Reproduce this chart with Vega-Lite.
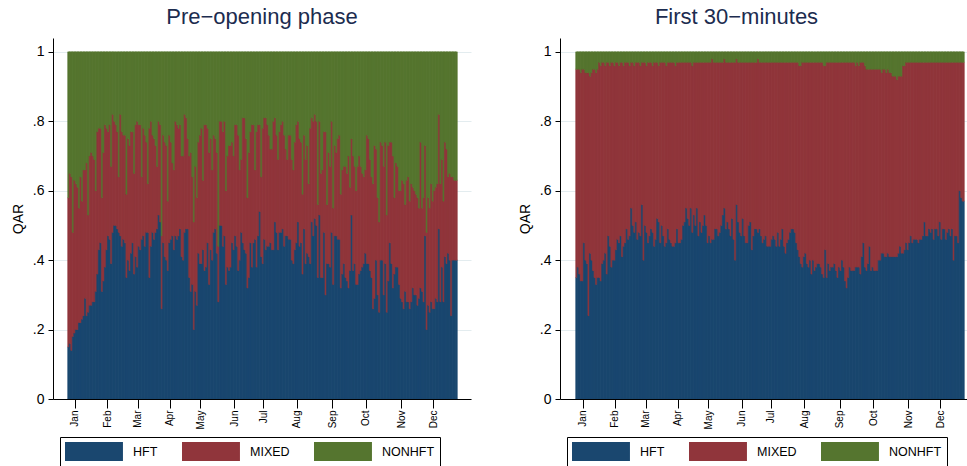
{
"$schema":"https://vega.github.io/schema/vega-lite/v6.json",
"background":"white",
"padding":{"left":11,"top":6,"right":0,"bottom":0},
"config":{"view":{"stroke":null},"font":"Liberation Sans","concat":{"spacing":47},
"axis":{"labelColor":"black","titleColor":"black","domainColor":"black","tickColor":"black","labelFont":"Liberation Sans","titleFont":"Liberation Sans","domainWidth":1,"tickWidth":1},
"title":{"font":"Liberation Sans","fontSize":22,"fontWeight":"normal","color":"#1c2c4f","frame":"group","anchor":"middle","offset":9}},
"datasets":{
"pre":[
{"d":1,"HFT":0.15,"MIXED":0.43,"NONHFT":0.42},{"d":2,"HFT":0.16,"MIXED":0.49,"NONHFT":0.35},{"d":3,"HFT":0.14,"MIXED":0.50,"NONHFT":0.36},{"d":4,"HFT":0.18,"MIXED":0.30,"NONHFT":0.52},{"d":5,"HFT":0.19,"MIXED":0.44,"NONHFT":0.37},{"d":6,"HFT":0.20,"MIXED":0.42,"NONHFT":0.38},{"d":7,"HFT":0.20,"MIXED":0.41,"NONHFT":0.39},{"d":8,"HFT":0.22,"MIXED":0.33,"NONHFT":0.45},{"d":9,"HFT":0.22,"MIXED":0.42,"NONHFT":0.36},{"d":10,"HFT":0.23,"MIXED":0.34,"NONHFT":0.43},
{"d":11,"HFT":0.24,"MIXED":0.42,"NONHFT":0.34},{"d":12,"HFT":0.29,"MIXED":0.37,"NONHFT":0.34},{"d":13,"HFT":0.24,"MIXED":0.44,"NONHFT":0.32},{"d":14,"HFT":0.25,"MIXED":0.28,"NONHFT":0.47},{"d":15,"HFT":0.27,"MIXED":0.43,"NONHFT":0.30},{"d":16,"HFT":0.27,"MIXED":0.44,"NONHFT":0.29},{"d":17,"HFT":0.28,"MIXED":0.42,"NONHFT":0.30},{"d":18,"HFT":0.28,"MIXED":0.41,"NONHFT":0.31},{"d":19,"HFT":0.31,"MIXED":0.29,"NONHFT":0.40},{"d":20,"HFT":0.36,"MIXED":0.41,"NONHFT":0.23},
{"d":21,"HFT":0.43,"MIXED":0.35,"NONHFT":0.22},{"d":22,"HFT":0.45,"MIXED":0.33,"NONHFT":0.22},{"d":23,"HFT":0.31,"MIXED":0.27,"NONHFT":0.42},{"d":24,"HFT":0.34,"MIXED":0.37,"NONHFT":0.29},{"d":25,"HFT":0.38,"MIXED":0.41,"NONHFT":0.21},{"d":26,"HFT":0.43,"MIXED":0.35,"NONHFT":0.22},{"d":27,"HFT":0.47,"MIXED":0.30,"NONHFT":0.23},{"d":28,"HFT":0.46,"MIXED":0.33,"NONHFT":0.21},{"d":29,"HFT":0.39,"MIXED":0.28,"NONHFT":0.33},{"d":30,"HFT":0.48,"MIXED":0.34,"NONHFT":0.18},
{"d":31,"HFT":0.50,"MIXED":0.30,"NONHFT":0.20},{"d":32,"HFT":0.50,"MIXED":0.29,"NONHFT":0.21},{"d":33,"HFT":0.49,"MIXED":0.28,"NONHFT":0.23},{"d":34,"HFT":0.48,"MIXED":0.16,"NONHFT":0.36},{"d":35,"HFT":0.47,"MIXED":0.35,"NONHFT":0.18},{"d":36,"HFT":0.44,"MIXED":0.33,"NONHFT":0.23},{"d":37,"HFT":0.46,"MIXED":0.30,"NONHFT":0.24},{"d":38,"HFT":0.45,"MIXED":0.31,"NONHFT":0.24},{"d":39,"HFT":0.35,"MIXED":0.24,"NONHFT":0.41},{"d":40,"HFT":0.40,"MIXED":0.35,"NONHFT":0.25},
{"d":41,"HFT":0.37,"MIXED":0.36,"NONHFT":0.27},{"d":42,"HFT":0.42,"MIXED":0.35,"NONHFT":0.23},{"d":43,"HFT":0.45,"MIXED":0.32,"NONHFT":0.23},{"d":44,"HFT":0.36,"MIXED":0.29,"NONHFT":0.35},{"d":45,"HFT":0.41,"MIXED":0.38,"NONHFT":0.21},{"d":46,"HFT":0.38,"MIXED":0.42,"NONHFT":0.20},{"d":47,"HFT":0.44,"MIXED":0.35,"NONHFT":0.21},{"d":48,"HFT":0.43,"MIXED":0.36,"NONHFT":0.21},{"d":49,"HFT":0.46,"MIXED":0.18,"NONHFT":0.36},{"d":50,"HFT":0.47,"MIXED":0.31,"NONHFT":0.22},
{"d":51,"HFT":0.44,"MIXED":0.32,"NONHFT":0.24},{"d":52,"HFT":0.48,"MIXED":0.26,"NONHFT":0.26},{"d":53,"HFT":0.48,"MIXED":0.14,"NONHFT":0.38},{"d":54,"HFT":0.35,"MIXED":0.43,"NONHFT":0.22},{"d":55,"HFT":0.44,"MIXED":0.36,"NONHFT":0.20},{"d":56,"HFT":0.48,"MIXED":0.28,"NONHFT":0.24},{"d":57,"HFT":0.46,"MIXED":0.29,"NONHFT":0.25},{"d":58,"HFT":0.48,"MIXED":0.25,"NONHFT":0.27},{"d":59,"HFT":0.49,"MIXED":0.18,"NONHFT":0.33},{"d":60,"HFT":0.53,"MIXED":0.27,"NONHFT":0.20},
{"d":61,"HFT":0.51,"MIXED":0.28,"NONHFT":0.21},{"d":62,"HFT":0.26,"MIXED":0.21,"NONHFT":0.53},{"d":63,"HFT":0.45,"MIXED":0.31,"NONHFT":0.24},{"d":64,"HFT":0.41,"MIXED":0.33,"NONHFT":0.26},{"d":65,"HFT":0.40,"MIXED":0.33,"NONHFT":0.27},{"d":66,"HFT":0.37,"MIXED":0.20,"NONHFT":0.43},{"d":67,"HFT":0.45,"MIXED":0.31,"NONHFT":0.24},{"d":68,"HFT":0.46,"MIXED":0.28,"NONHFT":0.26},{"d":69,"HFT":0.47,"MIXED":0.21,"NONHFT":0.32},{"d":70,"HFT":0.43,"MIXED":0.23,"NONHFT":0.34},
{"d":71,"HFT":0.47,"MIXED":0.33,"NONHFT":0.20},{"d":72,"HFT":0.46,"MIXED":0.33,"NONHFT":0.21},{"d":73,"HFT":0.47,"MIXED":0.31,"NONHFT":0.22},{"d":74,"HFT":0.49,"MIXED":0.30,"NONHFT":0.21},{"d":75,"HFT":0.41,"MIXED":0.29,"NONHFT":0.30},{"d":76,"HFT":0.40,"MIXED":0.30,"NONHFT":0.30},{"d":77,"HFT":0.48,"MIXED":0.34,"NONHFT":0.18},{"d":78,"HFT":0.49,"MIXED":0.32,"NONHFT":0.19},{"d":79,"HFT":0.49,"MIXED":0.26,"NONHFT":0.25},{"d":80,"HFT":0.35,"MIXED":0.35,"NONHFT":0.30},
{"d":81,"HFT":0.31,"MIXED":0.40,"NONHFT":0.29},{"d":82,"HFT":0.33,"MIXED":0.31,"NONHFT":0.36},{"d":83,"HFT":0.20,"MIXED":0.31,"NONHFT":0.49},{"d":84,"HFT":0.31,"MIXED":0.36,"NONHFT":0.33},{"d":85,"HFT":0.27,"MIXED":0.31,"NONHFT":0.42},{"d":86,"HFT":0.42,"MIXED":0.32,"NONHFT":0.26},{"d":87,"HFT":0.39,"MIXED":0.37,"NONHFT":0.24},{"d":88,"HFT":0.39,"MIXED":0.39,"NONHFT":0.22},{"d":89,"HFT":0.43,"MIXED":0.20,"NONHFT":0.37},{"d":90,"HFT":0.37,"MIXED":0.42,"NONHFT":0.21},
{"d":91,"HFT":0.38,"MIXED":0.41,"NONHFT":0.21},{"d":92,"HFT":0.45,"MIXED":0.33,"NONHFT":0.22},{"d":93,"HFT":0.33,"MIXED":0.38,"NONHFT":0.29},{"d":94,"HFT":0.43,"MIXED":0.32,"NONHFT":0.25},{"d":95,"HFT":0.40,"MIXED":0.26,"NONHFT":0.34},{"d":96,"HFT":0.48,"MIXED":0.28,"NONHFT":0.24},{"d":97,"HFT":0.49,"MIXED":0.26,"NONHFT":0.25},{"d":98,"HFT":0.42,"MIXED":0.29,"NONHFT":0.29},{"d":99,"HFT":0.28,"MIXED":0.16,"NONHFT":0.56},{"d":100,"HFT":0.50,"MIXED":0.30,"NONHFT":0.20},
{"d":101,"HFT":0.50,"MIXED":0.30,"NONHFT":0.20},{"d":102,"HFT":0.44,"MIXED":0.33,"NONHFT":0.23},{"d":103,"HFT":0.47,"MIXED":0.33,"NONHFT":0.20},{"d":104,"HFT":0.33,"MIXED":0.27,"NONHFT":0.40},{"d":105,"HFT":0.38,"MIXED":0.32,"NONHFT":0.30},{"d":106,"HFT":0.37,"MIXED":0.36,"NONHFT":0.27},{"d":107,"HFT":0.38,"MIXED":0.35,"NONHFT":0.27},{"d":108,"HFT":0.45,"MIXED":0.29,"NONHFT":0.26},{"d":109,"HFT":0.43,"MIXED":0.27,"NONHFT":0.30},{"d":110,"HFT":0.47,"MIXED":0.32,"NONHFT":0.21},
{"d":111,"HFT":0.44,"MIXED":0.35,"NONHFT":0.21},{"d":112,"HFT":0.37,"MIXED":0.39,"NONHFT":0.24},{"d":113,"HFT":0.40,"MIXED":0.26,"NONHFT":0.34},{"d":114,"HFT":0.48,"MIXED":0.21,"NONHFT":0.31},{"d":115,"HFT":0.45,"MIXED":0.36,"NONHFT":0.19},{"d":116,"HFT":0.43,"MIXED":0.38,"NONHFT":0.19},{"d":117,"HFT":0.42,"MIXED":0.33,"NONHFT":0.25},{"d":118,"HFT":0.32,"MIXED":0.26,"NONHFT":0.42},{"d":119,"HFT":0.35,"MIXED":0.36,"NONHFT":0.29},{"d":120,"HFT":0.45,"MIXED":0.32,"NONHFT":0.23},
{"d":121,"HFT":0.38,"MIXED":0.41,"NONHFT":0.21},{"d":122,"HFT":0.45,"MIXED":0.34,"NONHFT":0.21},{"d":123,"HFT":0.46,"MIXED":0.20,"NONHFT":0.34},{"d":124,"HFT":0.38,"MIXED":0.39,"NONHFT":0.23},{"d":125,"HFT":0.47,"MIXED":0.32,"NONHFT":0.21},{"d":126,"HFT":0.54,"MIXED":0.25,"NONHFT":0.21},{"d":127,"HFT":0.41,"MIXED":0.23,"NONHFT":0.36},{"d":128,"HFT":0.39,"MIXED":0.39,"NONHFT":0.22},{"d":129,"HFT":0.46,"MIXED":0.35,"NONHFT":0.19},{"d":130,"HFT":0.43,"MIXED":0.38,"NONHFT":0.19},
{"d":131,"HFT":0.44,"MIXED":0.35,"NONHFT":0.21},{"d":132,"HFT":0.44,"MIXED":0.32,"NONHFT":0.24},{"d":133,"HFT":0.45,"MIXED":0.27,"NONHFT":0.28},{"d":134,"HFT":0.43,"MIXED":0.29,"NONHFT":0.28},{"d":135,"HFT":0.43,"MIXED":0.37,"NONHFT":0.20},{"d":136,"HFT":0.51,"MIXED":0.30,"NONHFT":0.19},{"d":137,"HFT":0.48,"MIXED":0.28,"NONHFT":0.24},{"d":138,"HFT":0.43,"MIXED":0.26,"NONHFT":0.31},{"d":139,"HFT":0.48,"MIXED":0.29,"NONHFT":0.23},{"d":140,"HFT":0.48,"MIXED":0.31,"NONHFT":0.21},
{"d":141,"HFT":0.49,"MIXED":0.31,"NONHFT":0.20},{"d":142,"HFT":0.44,"MIXED":0.32,"NONHFT":0.24},{"d":143,"HFT":0.47,"MIXED":0.25,"NONHFT":0.28},{"d":144,"HFT":0.47,"MIXED":0.22,"NONHFT":0.31},{"d":145,"HFT":0.46,"MIXED":0.30,"NONHFT":0.24},{"d":146,"HFT":0.46,"MIXED":0.30,"NONHFT":0.24},{"d":147,"HFT":0.40,"MIXED":0.29,"NONHFT":0.31},{"d":148,"HFT":0.39,"MIXED":0.27,"NONHFT":0.34},{"d":149,"HFT":0.43,"MIXED":0.31,"NONHFT":0.26},{"d":150,"HFT":0.45,"MIXED":0.34,"NONHFT":0.21},
{"d":151,"HFT":0.51,"MIXED":0.29,"NONHFT":0.20},{"d":152,"HFT":0.44,"MIXED":0.31,"NONHFT":0.25},{"d":153,"HFT":0.45,"MIXED":0.29,"NONHFT":0.26},{"d":154,"HFT":0.36,"MIXED":0.23,"NONHFT":0.41},{"d":155,"HFT":0.49,"MIXED":0.27,"NONHFT":0.24},{"d":156,"HFT":0.39,"MIXED":0.30,"NONHFT":0.31},{"d":157,"HFT":0.42,"MIXED":0.31,"NONHFT":0.27},{"d":158,"HFT":0.41,"MIXED":0.21,"NONHFT":0.38},{"d":159,"HFT":0.39,"MIXED":0.39,"NONHFT":0.22},{"d":160,"HFT":0.51,"MIXED":0.30,"NONHFT":0.19},
{"d":161,"HFT":0.47,"MIXED":0.33,"NONHFT":0.20},{"d":162,"HFT":0.52,"MIXED":0.30,"NONHFT":0.18},{"d":163,"HFT":0.50,"MIXED":0.30,"NONHFT":0.20},{"d":164,"HFT":0.35,"MIXED":0.21,"NONHFT":0.44},{"d":165,"HFT":0.53,"MIXED":0.27,"NONHFT":0.20},{"d":166,"HFT":0.35,"MIXED":0.30,"NONHFT":0.35},{"d":167,"HFT":0.35,"MIXED":0.31,"NONHFT":0.34},{"d":168,"HFT":0.48,"MIXED":0.29,"NONHFT":0.23},{"d":169,"HFT":0.30,"MIXED":0.47,"NONHFT":0.23},{"d":170,"HFT":0.39,"MIXED":0.17,"NONHFT":0.44},
{"d":171,"HFT":0.39,"MIXED":0.32,"NONHFT":0.29},{"d":172,"HFT":0.38,"MIXED":0.29,"NONHFT":0.33},{"d":173,"HFT":0.48,"MIXED":0.32,"NONHFT":0.20},{"d":174,"HFT":0.33,"MIXED":0.22,"NONHFT":0.45},{"d":175,"HFT":0.47,"MIXED":0.26,"NONHFT":0.27},{"d":176,"HFT":0.47,"MIXED":0.24,"NONHFT":0.29},{"d":177,"HFT":0.46,"MIXED":0.29,"NONHFT":0.25},{"d":178,"HFT":0.46,"MIXED":0.30,"NONHFT":0.24},{"d":179,"HFT":0.32,"MIXED":0.27,"NONHFT":0.41},{"d":180,"HFT":0.36,"MIXED":0.30,"NONHFT":0.34},
{"d":181,"HFT":0.39,"MIXED":0.28,"NONHFT":0.33},{"d":182,"HFT":0.35,"MIXED":0.32,"NONHFT":0.33},{"d":183,"HFT":0.34,"MIXED":0.31,"NONHFT":0.35},{"d":184,"HFT":0.32,"MIXED":0.38,"NONHFT":0.30},{"d":185,"HFT":0.37,"MIXED":0.24,"NONHFT":0.39},{"d":186,"HFT":0.53,"MIXED":0.22,"NONHFT":0.25},{"d":187,"HFT":0.37,"MIXED":0.33,"NONHFT":0.30},{"d":188,"HFT":0.39,"MIXED":0.28,"NONHFT":0.33},{"d":189,"HFT":0.33,"MIXED":0.27,"NONHFT":0.40},{"d":190,"HFT":0.33,"MIXED":0.34,"NONHFT":0.33},
{"d":191,"HFT":0.36,"MIXED":0.34,"NONHFT":0.30},{"d":192,"HFT":0.37,"MIXED":0.30,"NONHFT":0.33},{"d":193,"HFT":0.38,"MIXED":0.27,"NONHFT":0.35},{"d":194,"HFT":0.39,"MIXED":0.25,"NONHFT":0.36},{"d":195,"HFT":0.42,"MIXED":0.24,"NONHFT":0.34},{"d":196,"HFT":0.39,"MIXED":0.37,"NONHFT":0.24},{"d":197,"HFT":0.39,"MIXED":0.36,"NONHFT":0.25},{"d":198,"HFT":0.37,"MIXED":0.32,"NONHFT":0.31},{"d":199,"HFT":0.35,"MIXED":0.29,"NONHFT":0.36},{"d":200,"HFT":0.26,"MIXED":0.36,"NONHFT":0.38},
{"d":201,"HFT":0.29,"MIXED":0.44,"NONHFT":0.27},{"d":202,"HFT":0.40,"MIXED":0.32,"NONHFT":0.28},{"d":203,"HFT":0.30,"MIXED":0.28,"NONHFT":0.42},{"d":204,"HFT":0.25,"MIXED":0.26,"NONHFT":0.49},{"d":205,"HFT":0.40,"MIXED":0.34,"NONHFT":0.26},{"d":206,"HFT":0.40,"MIXED":0.33,"NONHFT":0.27},{"d":207,"HFT":0.30,"MIXED":0.37,"NONHFT":0.33},{"d":208,"HFT":0.39,"MIXED":0.35,"NONHFT":0.26},{"d":209,"HFT":0.25,"MIXED":0.28,"NONHFT":0.47},{"d":210,"HFT":0.34,"MIXED":0.39,"NONHFT":0.27},
{"d":211,"HFT":0.45,"MIXED":0.29,"NONHFT":0.26},{"d":212,"HFT":0.39,"MIXED":0.35,"NONHFT":0.26},{"d":213,"HFT":0.32,"MIXED":0.38,"NONHFT":0.30},{"d":214,"HFT":0.36,"MIXED":0.22,"NONHFT":0.42},{"d":215,"HFT":0.38,"MIXED":0.30,"NONHFT":0.32},{"d":216,"HFT":0.38,"MIXED":0.29,"NONHFT":0.33},{"d":217,"HFT":0.33,"MIXED":0.27,"NONHFT":0.40},{"d":218,"HFT":0.29,"MIXED":0.31,"NONHFT":0.40},{"d":219,"HFT":0.28,"MIXED":0.35,"NONHFT":0.37},{"d":220,"HFT":0.26,"MIXED":0.36,"NONHFT":0.38},
{"d":221,"HFT":0.31,"MIXED":0.25,"NONHFT":0.44},{"d":222,"HFT":0.28,"MIXED":0.35,"NONHFT":0.37},{"d":223,"HFT":0.28,"MIXED":0.36,"NONHFT":0.36},{"d":224,"HFT":0.26,"MIXED":0.31,"NONHFT":0.43},{"d":225,"HFT":0.28,"MIXED":0.34,"NONHFT":0.38},{"d":226,"HFT":0.32,"MIXED":0.29,"NONHFT":0.39},{"d":227,"HFT":0.30,"MIXED":0.30,"NONHFT":0.40},{"d":228,"HFT":0.30,"MIXED":0.29,"NONHFT":0.41},{"d":229,"HFT":0.27,"MIXED":0.31,"NONHFT":0.42},{"d":230,"HFT":0.29,"MIXED":0.26,"NONHFT":0.45},
{"d":231,"HFT":0.32,"MIXED":0.42,"NONHFT":0.26},{"d":232,"HFT":0.31,"MIXED":0.24,"NONHFT":0.45},{"d":233,"HFT":0.28,"MIXED":0.30,"NONHFT":0.42},{"d":234,"HFT":0.47,"MIXED":0.26,"NONHFT":0.27},{"d":235,"HFT":0.20,"MIXED":0.28,"NONHFT":0.52},{"d":236,"HFT":0.27,"MIXED":0.31,"NONHFT":0.42},{"d":237,"HFT":0.25,"MIXED":0.30,"NONHFT":0.45},{"d":238,"HFT":0.28,"MIXED":0.34,"NONHFT":0.38},{"d":239,"HFT":0.26,"MIXED":0.31,"NONHFT":0.43},{"d":240,"HFT":0.26,"MIXED":0.34,"NONHFT":0.40},
{"d":241,"HFT":0.29,"MIXED":0.32,"NONHFT":0.39},{"d":242,"HFT":0.28,"MIXED":0.34,"NONHFT":0.38},{"d":243,"HFT":0.49,"MIXED":0.33,"NONHFT":0.18},{"d":244,"HFT":0.28,"MIXED":0.34,"NONHFT":0.38},{"d":245,"HFT":0.38,"MIXED":0.31,"NONHFT":0.31},{"d":246,"HFT":0.28,"MIXED":0.29,"NONHFT":0.43},{"d":247,"HFT":0.41,"MIXED":0.33,"NONHFT":0.26},{"d":248,"HFT":0.39,"MIXED":0.33,"NONHFT":0.28},{"d":249,"HFT":0.42,"MIXED":0.22,"NONHFT":0.36},{"d":250,"HFT":0.40,"MIXED":0.25,"NONHFT":0.35},
{"d":251,"HFT":0.24,"MIXED":0.40,"NONHFT":0.36},{"d":252,"HFT":0.40,"MIXED":0.24,"NONHFT":0.36},{"d":253,"HFT":0.40,"MIXED":0.23,"NONHFT":0.37},{"d":254,"HFT":0.40,"MIXED":0.23,"NONHFT":0.37}
],
"first":[
{"d":1,"HFT":0.35,"MIXED":0.60,"NONHFT":0.05},{"d":2,"HFT":0.38,"MIXED":0.57,"NONHFT":0.05},{"d":3,"HFT":0.36,"MIXED":0.59,"NONHFT":0.05},{"d":4,"HFT":0.34,"MIXED":0.60,"NONHFT":0.06},{"d":5,"HFT":0.34,"MIXED":0.61,"NONHFT":0.05},{"d":6,"HFT":0.45,"MIXED":0.50,"NONHFT":0.05},{"d":7,"HFT":0.40,"MIXED":0.54,"NONHFT":0.06},{"d":8,"HFT":0.39,"MIXED":0.55,"NONHFT":0.06},{"d":9,"HFT":0.24,"MIXED":0.70,"NONHFT":0.06},{"d":10,"HFT":0.42,"MIXED":0.51,"NONHFT":0.07},
{"d":11,"HFT":0.40,"MIXED":0.54,"NONHFT":0.06},{"d":12,"HFT":0.37,"MIXED":0.58,"NONHFT":0.05},{"d":13,"HFT":0.35,"MIXED":0.60,"NONHFT":0.05},{"d":14,"HFT":0.33,"MIXED":0.61,"NONHFT":0.06},{"d":15,"HFT":0.35,"MIXED":0.60,"NONHFT":0.05},{"d":16,"HFT":0.35,"MIXED":0.62,"NONHFT":0.03},{"d":17,"HFT":0.34,"MIXED":0.62,"NONHFT":0.04},{"d":18,"HFT":0.39,"MIXED":0.58,"NONHFT":0.03},{"d":19,"HFT":0.40,"MIXED":0.57,"NONHFT":0.03},{"d":20,"HFT":0.42,"MIXED":0.54,"NONHFT":0.04},
{"d":21,"HFT":0.36,"MIXED":0.61,"NONHFT":0.03},{"d":22,"HFT":0.47,"MIXED":0.50,"NONHFT":0.03},{"d":23,"HFT":0.44,"MIXED":0.52,"NONHFT":0.04},{"d":24,"HFT":0.38,"MIXED":0.59,"NONHFT":0.03},{"d":25,"HFT":0.40,"MIXED":0.57,"NONHFT":0.03},{"d":26,"HFT":0.40,"MIXED":0.56,"NONHFT":0.04},{"d":27,"HFT":0.43,"MIXED":0.54,"NONHFT":0.03},{"d":28,"HFT":0.46,"MIXED":0.51,"NONHFT":0.03},{"d":29,"HFT":0.45,"MIXED":0.51,"NONHFT":0.04},{"d":30,"HFT":0.47,"MIXED":0.50,"NONHFT":0.03},
{"d":31,"HFT":0.41,"MIXED":0.56,"NONHFT":0.03},{"d":32,"HFT":0.44,"MIXED":0.52,"NONHFT":0.04},{"d":33,"HFT":0.45,"MIXED":0.52,"NONHFT":0.03},{"d":34,"HFT":0.49,"MIXED":0.48,"NONHFT":0.03},{"d":35,"HFT":0.46,"MIXED":0.51,"NONHFT":0.03},{"d":36,"HFT":0.47,"MIXED":0.49,"NONHFT":0.04},{"d":37,"HFT":0.55,"MIXED":0.42,"NONHFT":0.03},{"d":38,"HFT":0.50,"MIXED":0.47,"NONHFT":0.03},{"d":39,"HFT":0.48,"MIXED":0.48,"NONHFT":0.04},{"d":40,"HFT":0.51,"MIXED":0.46,"NONHFT":0.03},
{"d":41,"HFT":0.46,"MIXED":0.51,"NONHFT":0.03},{"d":42,"HFT":0.48,"MIXED":0.49,"NONHFT":0.03},{"d":43,"HFT":0.47,"MIXED":0.49,"NONHFT":0.04},{"d":44,"HFT":0.56,"MIXED":0.41,"NONHFT":0.03},{"d":45,"HFT":0.40,"MIXED":0.57,"NONHFT":0.03},{"d":46,"HFT":0.50,"MIXED":0.47,"NONHFT":0.03},{"d":47,"HFT":0.48,"MIXED":0.48,"NONHFT":0.04},{"d":48,"HFT":0.45,"MIXED":0.52,"NONHFT":0.03},{"d":49,"HFT":0.47,"MIXED":0.50,"NONHFT":0.03},{"d":50,"HFT":0.49,"MIXED":0.48,"NONHFT":0.03},
{"d":51,"HFT":0.48,"MIXED":0.48,"NONHFT":0.04},{"d":52,"HFT":0.44,"MIXED":0.53,"NONHFT":0.03},{"d":53,"HFT":0.46,"MIXED":0.51,"NONHFT":0.03},{"d":54,"HFT":0.52,"MIXED":0.45,"NONHFT":0.03},{"d":55,"HFT":0.51,"MIXED":0.45,"NONHFT":0.04},{"d":56,"HFT":0.45,"MIXED":0.52,"NONHFT":0.03},{"d":57,"HFT":0.50,"MIXED":0.47,"NONHFT":0.03},{"d":58,"HFT":0.47,"MIXED":0.50,"NONHFT":0.03},{"d":59,"HFT":0.44,"MIXED":0.53,"NONHFT":0.03},{"d":60,"HFT":0.45,"MIXED":0.51,"NONHFT":0.04},
{"d":61,"HFT":0.49,"MIXED":0.48,"NONHFT":0.03},{"d":62,"HFT":0.46,"MIXED":0.51,"NONHFT":0.03},{"d":63,"HFT":0.45,"MIXED":0.52,"NONHFT":0.03},{"d":64,"HFT":0.44,"MIXED":0.53,"NONHFT":0.03},{"d":65,"HFT":0.44,"MIXED":0.53,"NONHFT":0.03},{"d":66,"HFT":0.45,"MIXED":0.51,"NONHFT":0.04},{"d":67,"HFT":0.49,"MIXED":0.48,"NONHFT":0.03},{"d":68,"HFT":0.45,"MIXED":0.52,"NONHFT":0.03},{"d":69,"HFT":0.45,"MIXED":0.52,"NONHFT":0.03},{"d":70,"HFT":0.46,"MIXED":0.51,"NONHFT":0.03},
{"d":71,"HFT":0.50,"MIXED":0.47,"NONHFT":0.03},{"d":72,"HFT":0.51,"MIXED":0.46,"NONHFT":0.03},{"d":73,"HFT":0.55,"MIXED":0.42,"NONHFT":0.03},{"d":74,"HFT":0.52,"MIXED":0.45,"NONHFT":0.03},{"d":75,"HFT":0.50,"MIXED":0.47,"NONHFT":0.03},{"d":76,"HFT":0.55,"MIXED":0.42,"NONHFT":0.03},{"d":77,"HFT":0.48,"MIXED":0.48,"NONHFT":0.04},{"d":78,"HFT":0.53,"MIXED":0.44,"NONHFT":0.03},{"d":79,"HFT":0.50,"MIXED":0.47,"NONHFT":0.03},{"d":80,"HFT":0.55,"MIXED":0.42,"NONHFT":0.03},
{"d":81,"HFT":0.47,"MIXED":0.50,"NONHFT":0.03},{"d":82,"HFT":0.51,"MIXED":0.46,"NONHFT":0.03},{"d":83,"HFT":0.48,"MIXED":0.49,"NONHFT":0.03},{"d":84,"HFT":0.50,"MIXED":0.47,"NONHFT":0.03},{"d":85,"HFT":0.53,"MIXED":0.44,"NONHFT":0.03},{"d":86,"HFT":0.50,"MIXED":0.47,"NONHFT":0.03},{"d":87,"HFT":0.45,"MIXED":0.52,"NONHFT":0.03},{"d":88,"HFT":0.47,"MIXED":0.50,"NONHFT":0.03},{"d":89,"HFT":0.45,"MIXED":0.52,"NONHFT":0.03},{"d":90,"HFT":0.46,"MIXED":0.52,"NONHFT":0.02},
{"d":91,"HFT":0.46,"MIXED":0.51,"NONHFT":0.03},{"d":92,"HFT":0.49,"MIXED":0.48,"NONHFT":0.03},{"d":93,"HFT":0.49,"MIXED":0.48,"NONHFT":0.03},{"d":94,"HFT":0.47,"MIXED":0.50,"NONHFT":0.03},{"d":95,"HFT":0.48,"MIXED":0.49,"NONHFT":0.03},{"d":96,"HFT":0.50,"MIXED":0.47,"NONHFT":0.03},{"d":97,"HFT":0.53,"MIXED":0.44,"NONHFT":0.03},{"d":98,"HFT":0.55,"MIXED":0.43,"NONHFT":0.02},{"d":99,"HFT":0.49,"MIXED":0.48,"NONHFT":0.03},{"d":100,"HFT":0.51,"MIXED":0.46,"NONHFT":0.03},
{"d":101,"HFT":0.49,"MIXED":0.48,"NONHFT":0.03},{"d":102,"HFT":0.47,"MIXED":0.50,"NONHFT":0.03},{"d":103,"HFT":0.52,"MIXED":0.45,"NONHFT":0.03},{"d":104,"HFT":0.46,"MIXED":0.51,"NONHFT":0.03},{"d":105,"HFT":0.40,"MIXED":0.57,"NONHFT":0.03},{"d":106,"HFT":0.56,"MIXED":0.42,"NONHFT":0.02},{"d":107,"HFT":0.51,"MIXED":0.46,"NONHFT":0.03},{"d":108,"HFT":0.48,"MIXED":0.49,"NONHFT":0.03},{"d":109,"HFT":0.47,"MIXED":0.50,"NONHFT":0.03},{"d":110,"HFT":0.52,"MIXED":0.45,"NONHFT":0.03},
{"d":111,"HFT":0.47,"MIXED":0.50,"NONHFT":0.03},{"d":112,"HFT":0.45,"MIXED":0.52,"NONHFT":0.03},{"d":113,"HFT":0.45,"MIXED":0.52,"NONHFT":0.03},{"d":114,"HFT":0.50,"MIXED":0.47,"NONHFT":0.03},{"d":115,"HFT":0.51,"MIXED":0.46,"NONHFT":0.03},{"d":116,"HFT":0.43,"MIXED":0.54,"NONHFT":0.03},{"d":117,"HFT":0.47,"MIXED":0.50,"NONHFT":0.03},{"d":118,"HFT":0.49,"MIXED":0.48,"NONHFT":0.03},{"d":119,"HFT":0.49,"MIXED":0.48,"NONHFT":0.03},{"d":120,"HFT":0.48,"MIXED":0.50,"NONHFT":0.02},
{"d":121,"HFT":0.49,"MIXED":0.48,"NONHFT":0.03},{"d":122,"HFT":0.47,"MIXED":0.50,"NONHFT":0.03},{"d":123,"HFT":0.45,"MIXED":0.52,"NONHFT":0.03},{"d":124,"HFT":0.46,"MIXED":0.51,"NONHFT":0.03},{"d":125,"HFT":0.47,"MIXED":0.50,"NONHFT":0.03},{"d":126,"HFT":0.44,"MIXED":0.53,"NONHFT":0.03},{"d":127,"HFT":0.44,"MIXED":0.53,"NONHFT":0.03},{"d":128,"HFT":0.44,"MIXED":0.53,"NONHFT":0.03},{"d":129,"HFT":0.46,"MIXED":0.51,"NONHFT":0.03},{"d":130,"HFT":0.47,"MIXED":0.50,"NONHFT":0.03},
{"d":131,"HFT":0.46,"MIXED":0.51,"NONHFT":0.03},{"d":132,"HFT":0.44,"MIXED":0.53,"NONHFT":0.03},{"d":133,"HFT":0.48,"MIXED":0.49,"NONHFT":0.03},{"d":134,"HFT":0.44,"MIXED":0.53,"NONHFT":0.03},{"d":135,"HFT":0.46,"MIXED":0.51,"NONHFT":0.03},{"d":136,"HFT":0.49,"MIXED":0.48,"NONHFT":0.03},{"d":137,"HFT":0.44,"MIXED":0.53,"NONHFT":0.03},{"d":138,"HFT":0.42,"MIXED":0.55,"NONHFT":0.03},{"d":139,"HFT":0.45,"MIXED":0.52,"NONHFT":0.03},{"d":140,"HFT":0.46,"MIXED":0.51,"NONHFT":0.03},
{"d":141,"HFT":0.48,"MIXED":0.49,"NONHFT":0.03},{"d":142,"HFT":0.49,"MIXED":0.48,"NONHFT":0.03},{"d":143,"HFT":0.49,"MIXED":0.48,"NONHFT":0.03},{"d":144,"HFT":0.48,"MIXED":0.49,"NONHFT":0.03},{"d":145,"HFT":0.45,"MIXED":0.52,"NONHFT":0.03},{"d":146,"HFT":0.43,"MIXED":0.54,"NONHFT":0.03},{"d":147,"HFT":0.41,"MIXED":0.55,"NONHFT":0.04},{"d":148,"HFT":0.39,"MIXED":0.57,"NONHFT":0.04},{"d":149,"HFT":0.38,"MIXED":0.59,"NONHFT":0.03},{"d":150,"HFT":0.41,"MIXED":0.56,"NONHFT":0.03},
{"d":151,"HFT":0.42,"MIXED":0.55,"NONHFT":0.03},{"d":152,"HFT":0.39,"MIXED":0.58,"NONHFT":0.03},{"d":153,"HFT":0.38,"MIXED":0.59,"NONHFT":0.03},{"d":154,"HFT":0.40,"MIXED":0.57,"NONHFT":0.03},{"d":155,"HFT":0.36,"MIXED":0.61,"NONHFT":0.03},{"d":156,"HFT":0.40,"MIXED":0.57,"NONHFT":0.03},{"d":157,"HFT":0.37,"MIXED":0.60,"NONHFT":0.03},{"d":158,"HFT":0.38,"MIXED":0.59,"NONHFT":0.03},{"d":159,"HFT":0.39,"MIXED":0.58,"NONHFT":0.03},{"d":160,"HFT":0.39,"MIXED":0.58,"NONHFT":0.03},
{"d":161,"HFT":0.38,"MIXED":0.59,"NONHFT":0.03},{"d":162,"HFT":0.36,"MIXED":0.61,"NONHFT":0.03},{"d":163,"HFT":0.35,"MIXED":0.61,"NONHFT":0.04},{"d":164,"HFT":0.43,"MIXED":0.53,"NONHFT":0.04},{"d":165,"HFT":0.35,"MIXED":0.62,"NONHFT":0.03},{"d":166,"HFT":0.39,"MIXED":0.58,"NONHFT":0.03},{"d":167,"HFT":0.37,"MIXED":0.60,"NONHFT":0.03},{"d":168,"HFT":0.38,"MIXED":0.59,"NONHFT":0.03},{"d":169,"HFT":0.38,"MIXED":0.59,"NONHFT":0.03},{"d":170,"HFT":0.39,"MIXED":0.58,"NONHFT":0.03},
{"d":171,"HFT":0.37,"MIXED":0.60,"NONHFT":0.03},{"d":172,"HFT":0.35,"MIXED":0.62,"NONHFT":0.03},{"d":173,"HFT":0.38,"MIXED":0.59,"NONHFT":0.03},{"d":174,"HFT":0.37,"MIXED":0.60,"NONHFT":0.03},{"d":175,"HFT":0.40,"MIXED":0.57,"NONHFT":0.03},{"d":176,"HFT":0.38,"MIXED":0.59,"NONHFT":0.03},{"d":177,"HFT":0.34,"MIXED":0.63,"NONHFT":0.03},{"d":178,"HFT":0.32,"MIXED":0.65,"NONHFT":0.03},{"d":179,"HFT":0.35,"MIXED":0.62,"NONHFT":0.03},{"d":180,"HFT":0.38,"MIXED":0.59,"NONHFT":0.03},
{"d":181,"HFT":0.37,"MIXED":0.60,"NONHFT":0.03},{"d":182,"HFT":0.37,"MIXED":0.60,"NONHFT":0.03},{"d":183,"HFT":0.37,"MIXED":0.60,"NONHFT":0.03},{"d":184,"HFT":0.38,"MIXED":0.58,"NONHFT":0.04},{"d":185,"HFT":0.38,"MIXED":0.59,"NONHFT":0.03},{"d":186,"HFT":0.38,"MIXED":0.58,"NONHFT":0.04},{"d":187,"HFT":0.36,"MIXED":0.61,"NONHFT":0.03},{"d":188,"HFT":0.41,"MIXED":0.56,"NONHFT":0.03},{"d":189,"HFT":0.45,"MIXED":0.52,"NONHFT":0.03},{"d":190,"HFT":0.38,"MIXED":0.58,"NONHFT":0.04},
{"d":191,"HFT":0.37,"MIXED":0.58,"NONHFT":0.05},{"d":192,"HFT":0.39,"MIXED":0.56,"NONHFT":0.05},{"d":193,"HFT":0.44,"MIXED":0.51,"NONHFT":0.05},{"d":194,"HFT":0.37,"MIXED":0.58,"NONHFT":0.05},{"d":195,"HFT":0.38,"MIXED":0.57,"NONHFT":0.05},{"d":196,"HFT":0.37,"MIXED":0.58,"NONHFT":0.05},{"d":197,"HFT":0.37,"MIXED":0.58,"NONHFT":0.05},{"d":198,"HFT":0.37,"MIXED":0.58,"NONHFT":0.05},{"d":199,"HFT":0.40,"MIXED":0.55,"NONHFT":0.05},{"d":200,"HFT":0.40,"MIXED":0.55,"NONHFT":0.05},
{"d":201,"HFT":0.42,"MIXED":0.52,"NONHFT":0.06},{"d":202,"HFT":0.42,"MIXED":0.53,"NONHFT":0.05},{"d":203,"HFT":0.41,"MIXED":0.54,"NONHFT":0.05},{"d":204,"HFT":0.41,"MIXED":0.53,"NONHFT":0.06},{"d":205,"HFT":0.42,"MIXED":0.53,"NONHFT":0.05},{"d":206,"HFT":0.41,"MIXED":0.53,"NONHFT":0.06},{"d":207,"HFT":0.41,"MIXED":0.53,"NONHFT":0.06},{"d":208,"HFT":0.41,"MIXED":0.52,"NONHFT":0.07},{"d":209,"HFT":0.41,"MIXED":0.52,"NONHFT":0.07},{"d":210,"HFT":0.41,"MIXED":0.52,"NONHFT":0.07},
{"d":211,"HFT":0.41,"MIXED":0.51,"NONHFT":0.08},{"d":212,"HFT":0.42,"MIXED":0.51,"NONHFT":0.07},{"d":213,"HFT":0.44,"MIXED":0.49,"NONHFT":0.07},{"d":214,"HFT":0.42,"MIXED":0.51,"NONHFT":0.07},{"d":215,"HFT":0.42,"MIXED":0.54,"NONHFT":0.04},{"d":216,"HFT":0.43,"MIXED":0.53,"NONHFT":0.04},{"d":217,"HFT":0.45,"MIXED":0.52,"NONHFT":0.03},{"d":218,"HFT":0.43,"MIXED":0.54,"NONHFT":0.03},{"d":219,"HFT":0.45,"MIXED":0.52,"NONHFT":0.03},{"d":220,"HFT":0.47,"MIXED":0.50,"NONHFT":0.03},
{"d":221,"HFT":0.45,"MIXED":0.52,"NONHFT":0.03},{"d":222,"HFT":0.46,"MIXED":0.51,"NONHFT":0.03},{"d":223,"HFT":0.46,"MIXED":0.51,"NONHFT":0.03},{"d":224,"HFT":0.46,"MIXED":0.51,"NONHFT":0.03},{"d":225,"HFT":0.45,"MIXED":0.52,"NONHFT":0.03},{"d":226,"HFT":0.46,"MIXED":0.51,"NONHFT":0.03},{"d":227,"HFT":0.46,"MIXED":0.51,"NONHFT":0.03},{"d":228,"HFT":0.47,"MIXED":0.50,"NONHFT":0.03},{"d":229,"HFT":0.51,"MIXED":0.46,"NONHFT":0.03},{"d":230,"HFT":0.47,"MIXED":0.50,"NONHFT":0.03},
{"d":231,"HFT":0.47,"MIXED":0.50,"NONHFT":0.03},{"d":232,"HFT":0.49,"MIXED":0.48,"NONHFT":0.03},{"d":233,"HFT":0.48,"MIXED":0.49,"NONHFT":0.03},{"d":234,"HFT":0.49,"MIXED":0.48,"NONHFT":0.03},{"d":235,"HFT":0.46,"MIXED":0.51,"NONHFT":0.03},{"d":236,"HFT":0.49,"MIXED":0.48,"NONHFT":0.03},{"d":237,"HFT":0.49,"MIXED":0.48,"NONHFT":0.03},{"d":238,"HFT":0.47,"MIXED":0.50,"NONHFT":0.03},{"d":239,"HFT":0.51,"MIXED":0.46,"NONHFT":0.03},{"d":240,"HFT":0.46,"MIXED":0.51,"NONHFT":0.03},
{"d":241,"HFT":0.49,"MIXED":0.48,"NONHFT":0.03},{"d":242,"HFT":0.49,"MIXED":0.48,"NONHFT":0.03},{"d":243,"HFT":0.46,"MIXED":0.51,"NONHFT":0.03},{"d":244,"HFT":0.48,"MIXED":0.49,"NONHFT":0.03},{"d":245,"HFT":0.49,"MIXED":0.48,"NONHFT":0.03},{"d":246,"HFT":0.47,"MIXED":0.50,"NONHFT":0.03},{"d":247,"HFT":0.49,"MIXED":0.48,"NONHFT":0.03},{"d":248,"HFT":0.40,"MIXED":0.57,"NONHFT":0.03},{"d":249,"HFT":0.47,"MIXED":0.50,"NONHFT":0.03},{"d":250,"HFT":0.47,"MIXED":0.50,"NONHFT":0.03},
{"d":251,"HFT":0.45,"MIXED":0.52,"NONHFT":0.03},{"d":252,"HFT":0.60,"MIXED":0.37,"NONHFT":0.03},{"d":253,"HFT":0.58,"MIXED":0.39,"NONHFT":0.03},{"d":254,"HFT":0.57,"MIXED":0.40,"NONHFT":0.03}
]},
"hconcat":[
{"data":{"name":"pre"},"title":{"text":"Pre−opening phase"},"width":418,"height":361,
"transform":[{"fold":["HFT","MIXED","NONHFT"],"as":["grp","share"]}],
"mark":{"type":"bar","width":2.1,"strokeWidth":0.6},
"encoding":{
"x":{"field":"d","type":"quantitative","scale":{"domain":[-9.29,263.64],"nice":false,"zero":false,"padding":0},
"axis":{"title":null,"values":[5,26,46,67,87,109,128,150,173,195,218,239],"labelExpr":"['Jan','Feb','Mar','Apr','May','Jun','Jul','Aug','Sep','Oct','Nov','Dec'][indexof([5,26,46,67,87,109,128,150,173,195,218,239], datum.value)]","labelAngle":-90,"labelFontSize":10,"tickSize":9,"labelPadding":2,"grid":false,"zindex":1,"labelFlush":false,"labelOverlap":false}},
"y":{"field":"share","type":"quantitative","stack":"zero","scale":{"domain":[0,1.04],"nice":false},
"axis":{"title":"QAR","values":[0,0.2,0.4,0.6,0.8,1],"labelExpr":"datum.value == 0 ? '0' : datum.value == 1 ? '1' : '.' + round(datum.value * 10)","labelFontSize":14,"titleFontSize":14,"titleFontWeight":"normal","tickSize":5,"labelPadding":4,"titlePadding":7,"grid":true,"gridColor":"#e3ecef","labelAngle":0,"labelFlush":false}},
"order":{"field":"grp","sort":"ascending"},
"stroke":{"field":"grp","type":"nominal","scale":{"domain":["HFT","MIXED","NONHFT"],"range":["#1a476f","#90353b","#55752f"]},"legend":null},
"color":{"field":"grp","type":"nominal","scale":{"domain":["HFT","MIXED","NONHFT"],"range":["#1a476f","#90353b","#55752f"]},
"legend":{"orient":"none","legendX":7,"legendY":399,"direction":"horizontal","columns":3,"title":null,"symbolType":"M-1,-1L5.1,-1L5.1,1L-1,1Z","symbolSize":361,"symbolStrokeWidth":0,"labelFontSize":12.5,"labelFont":"Liberation Sans","labelColor":"black","labelOffset":49,"columnPadding":24,"padding":5,"strokeColor":"black"}}
}},
{"data":{"name":"first"},"title":{"text":"First 30−minutes","dx":-27},"width":407,"height":361,
"transform":[{"fold":["HFT","MIXED","NONHFT"],"as":["grp","share"]}],
"mark":{"type":"bar","width":2.1,"strokeWidth":0.6},
"encoding":{
"x":{"field":"d","type":"quantitative","scale":{"domain":[-9.97,256.46],"nice":false,"zero":false,"padding":0},
"axis":{"title":null,"values":[5,26,46,67,87,109,128,150,173,195,218,239],"labelExpr":"['Jan','Feb','Mar','Apr','May','Jun','Jul','Aug','Sep','Oct','Nov','Dec'][indexof([5,26,46,67,87,109,128,150,173,195,218,239], datum.value)]","labelAngle":-90,"labelFontSize":10,"tickSize":9,"labelPadding":2,"grid":false,"zindex":1,"labelFlush":false,"labelOverlap":false}},
"y":{"field":"share","type":"quantitative","stack":"zero","scale":{"domain":[0,1.04],"nice":false},
"axis":{"title":"QAR","values":[0,0.2,0.4,0.6,0.8,1],"labelExpr":"datum.value == 0 ? '0' : datum.value == 1 ? '1' : '.' + round(datum.value * 10)","labelFontSize":14,"titleFontSize":14,"titleFontWeight":"normal","tickSize":5,"labelPadding":4,"titlePadding":7,"grid":true,"gridColor":"#e3ecef","labelAngle":0,"labelFlush":false}},
"order":{"field":"grp","sort":"ascending"},
"stroke":{"field":"grp","type":"nominal","scale":{"domain":["HFT","MIXED","NONHFT"],"range":["#1a476f","#90353b","#55752f"]},"legend":null},
"color":{"field":"grp","type":"nominal","scale":{"domain":["HFT","MIXED","NONHFT"],"range":["#1a476f","#90353b","#55752f"]},
"legend":{"orient":"none","legendX":7,"legendY":399,"direction":"horizontal","columns":3,"title":null,"symbolType":"M-1,-1L5.1,-1L5.1,1L-1,1Z","symbolSize":361,"symbolStrokeWidth":0,"labelFontSize":12.5,"labelFont":"Liberation Sans","labelColor":"black","labelOffset":49,"columnPadding":24,"padding":5,"strokeColor":"black"}}
}}
],
"resolve":{"scale":{"color":"independent","stroke":"independent","x":"independent","y":"independent"},"legend":{"color":"independent"}}
}
